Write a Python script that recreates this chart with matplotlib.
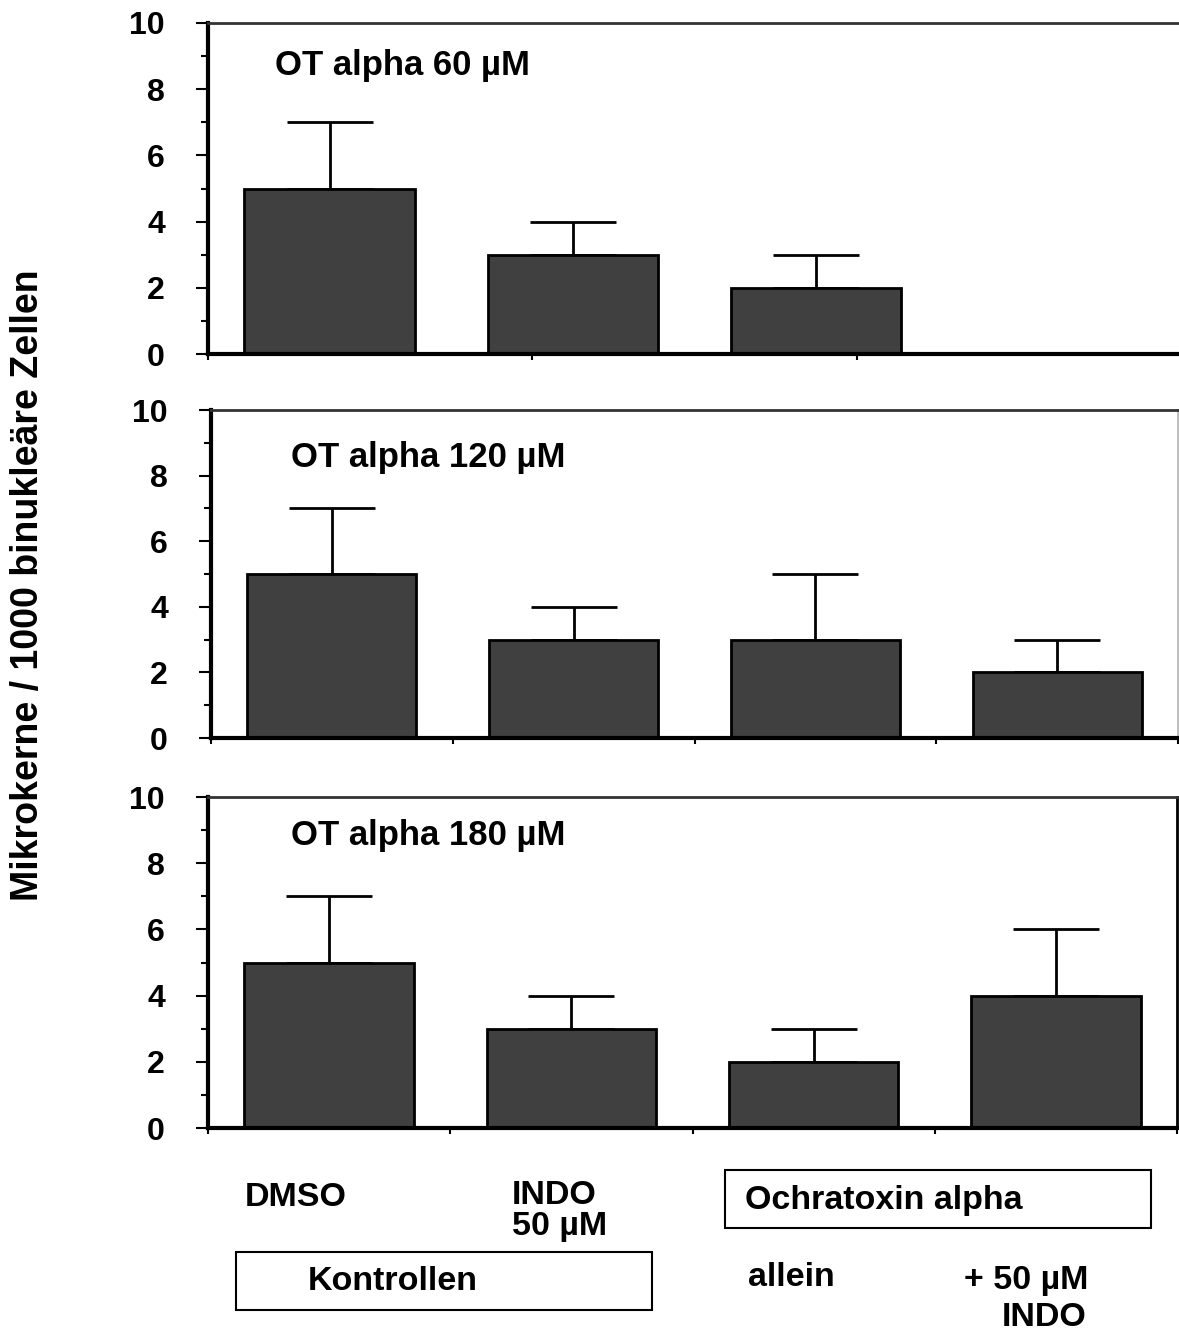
import matplotlib.pyplot as plt
from matplotlib.patches import Rectangle
from matplotlib.ticker import MultipleLocator

plt.rcParams['font.family'] = ['Liberation Sans', 'DejaVu Sans']
plt.rcParams['font.weight'] = 'bold'

# Mikrokerne je Gruppe: DMSO, INDO 50 uM, OT alpha allein, OT alpha + INDO
titles = ['OT alpha 60 µM', 'OT alpha 120 µM', 'OT alpha 180 µM']
means = [[5, 3, 2],
         [5, 3, 3, 2],
         [5, 3, 2, 4]]
errs = [[2, 1, 1],
        [2, 1, 2, 1],
        [2, 1, 1, 2]]

W, H = 1179, 1334
fig = plt.figure(figsize=(W / 100, H / 100), dpi=100)


def fx(px):
    return px / W


def fy(py):
    return 1 - py / H


# axes boxes in pixels: left, right, top (y=10), bottom (y=0)
boxes = [(208, 1181, 23, 354), (211, 1178, 410, 738), (208, 1177, 797, 1128)]
right_spine = [None, '#bbbbbb', 'black']
title_pos = [(275, 65), (291, 458), (291, 836)]

for i, (l, r, t, b) in enumerate(boxes):
    ax = fig.add_axes([fx(l), fy(b), fx(r) - fx(l), fy(t) - fy(b)])
    m = means[i]
    x = [k + 0.5 for k in range(len(m))]
    ax.bar(x, m, width=0.70, color='#404040', edgecolor='black', linewidth=2, zorder=2)
    ax.errorbar(x, m, yerr=[[0] * len(m), errs[i]], fmt='none', ecolor='black',
                elinewidth=2, capsize=31, capthick=2, zorder=1)
    ax.set_xlim(0, 4)
    ax.set_ylim(0, 10)
    ax.yaxis.set_major_locator(MultipleLocator(2))
    ax.yaxis.set_minor_locator(MultipleLocator(1))
    if i == 0:
        ax.set_xticks([0, 4 / 3, 8 / 3, 4])
    else:
        ax.set_xticks([0, 1, 2, 3, 4])
    ax.tick_params(axis='x', labelbottom=False, length=4, width=1.5, direction='out')
    ax.tick_params(axis='y', which='major', length=9, width=1.5, labelsize=23, pad=22)
    ax.tick_params(axis='y', which='minor', length=5, width=1.5)
    for lab in ax.get_yticklabels():
        lab.set_fontweight('bold')
    ax.spines['left'].set_linewidth(3)
    ax.spines['bottom'].set_linewidth(3)
    ax.spines['top'].set_linewidth(2)
    ax.spines['top'].set_color('#333333')
    if right_spine[i] is None:
        ax.spines['right'].set_visible(False)
    else:
        ax.spines['right'].set_color(right_spine[i])
        ax.spines['right'].set_linewidth(2)
    tx, ty = title_pos[i]
    fig.text(fx(tx), fy(ty), titles[i], fontsize=25, fontweight='bold', va='center')

fig.text(fx(28), fy(585), 'Mikrokerne / 1000 binukleäre Zellen', rotation=90,
         fontsize=27, fontweight='bold', ha='center', va='center')

# Gruppenbeschriftung unter den Panels
fs = 24.5
labels = [(245, 1197, 'DMSO', 'left'),
          (512, 1195, 'INDO', 'left'),
          (512, 1227, '50 µM', 'left'),
          (748, 1278, 'allein', 'left'),
          (1088, 1281, '+ 50 µM', 'right'),
          (1086, 1318, 'INDO', 'right')]
for px, py, s, ha in labels:
    fig.text(fx(px), fy(py), s, fontsize=fs, fontweight='bold', va='center', ha=ha)

fig.add_artist(Rectangle((fx(725), fy(1228)), fx(1151) - fx(725), fy(1170) - fy(1228),
                         transform=fig.transFigure, fill=False, edgecolor='black', linewidth=1.5))
fig.text(fx(745), fy(1200), 'Ochratoxin alpha', fontsize=fs, fontweight='bold', va='center')

fig.add_artist(Rectangle((fx(236), fy(1310)), fx(652) - fx(236), fy(1252) - fy(1310),
                         transform=fig.transFigure, fill=False, edgecolor='black', linewidth=1.5))
fig.text(fx(308), fy(1281), 'Kontrollen', fontsize=fs, fontweight='bold', va='center')

fig.savefig('out.png', dpi=100)
